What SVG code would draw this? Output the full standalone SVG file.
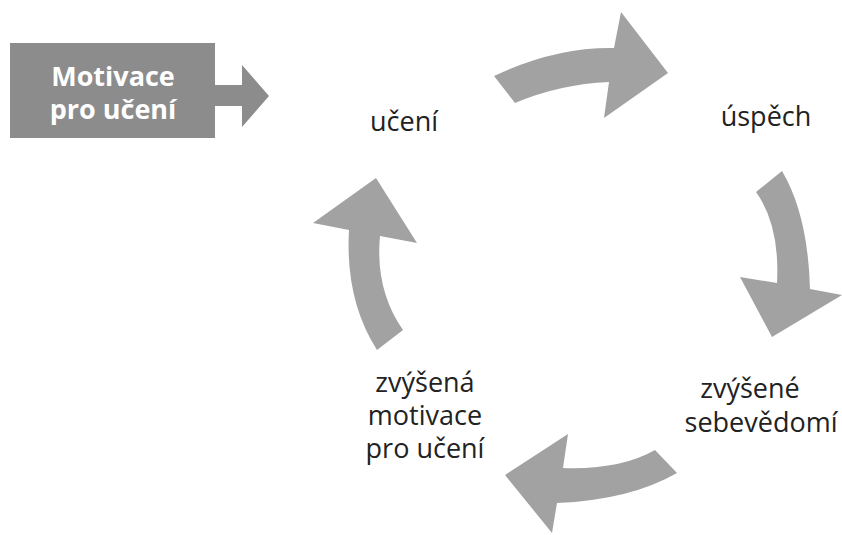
<svg xmlns="http://www.w3.org/2000/svg" width="842" height="535" viewBox="0 0 842 535">
<style>
.arr{fill:#a2a2a2}
.lbl{font-family:"Open Sans","Liberation Sans",sans-serif;font-size:27px;fill:#222;text-anchor:middle}
.bx{font-family:"Open Sans","Liberation Sans",sans-serif;font-size:27px;font-weight:bold;fill:#fff;text-anchor:middle}
</style>
<rect width="842" height="535" fill="#fff"/>
<g id="motivace-box">
<rect x="10" y="43" width="205" height="95" fill="#8c8c8c"/>
<text class="bx" x="113" y="86">Motivace</text>
<text class="bx" x="113" y="119">pro učení</text>
</g>
<g id="uceni"><text class="lbl" x="404" y="131">učení</text></g>
<g id="uspech"><text class="lbl" x="766" y="126">úspěch</text></g>
<g id="sebevedomi">
<text class="lbl" x="750" y="398">zvýšené</text>
<text class="lbl" x="761" y="432">sebevědomí</text>
</g>
<g id="motivace">
<text class="lbl" x="425" y="392">zvýšená</text>
<text class="lbl" x="425" y="425">motivace</text>
<text class="lbl" x="425" y="458">pro učení</text>
</g>
<g id="connectors">
<path fill="#8c8c8c" d="M215 85 L242 85 L242 65 L269 96 L242 127 L242 106 L215 106 Z"/>
<path class="arr" d="M494 76 Q555 47 614 48 L621 12 L668 73 L604 118 L609 82 Q560 84 515 103 Z"/>
<path class="arr" d="M756 192 L782 171 Q808 215 810 289 L842 295 L772 337 L740 277 L777 283 Q780 225 756 192 Z"/>
<path class="arr" d="M655 450 L677 473 Q630 500 557 503 L552 533 L505 475 L568 434 L563 468 Q620 470 655 450 Z"/>
<path class="arr" d="M377 350 Q345 300 349 230 L313 223 L376 178 L417 243 L380 236 Q375 290 403 330 Z"/>
</g>
</svg>
